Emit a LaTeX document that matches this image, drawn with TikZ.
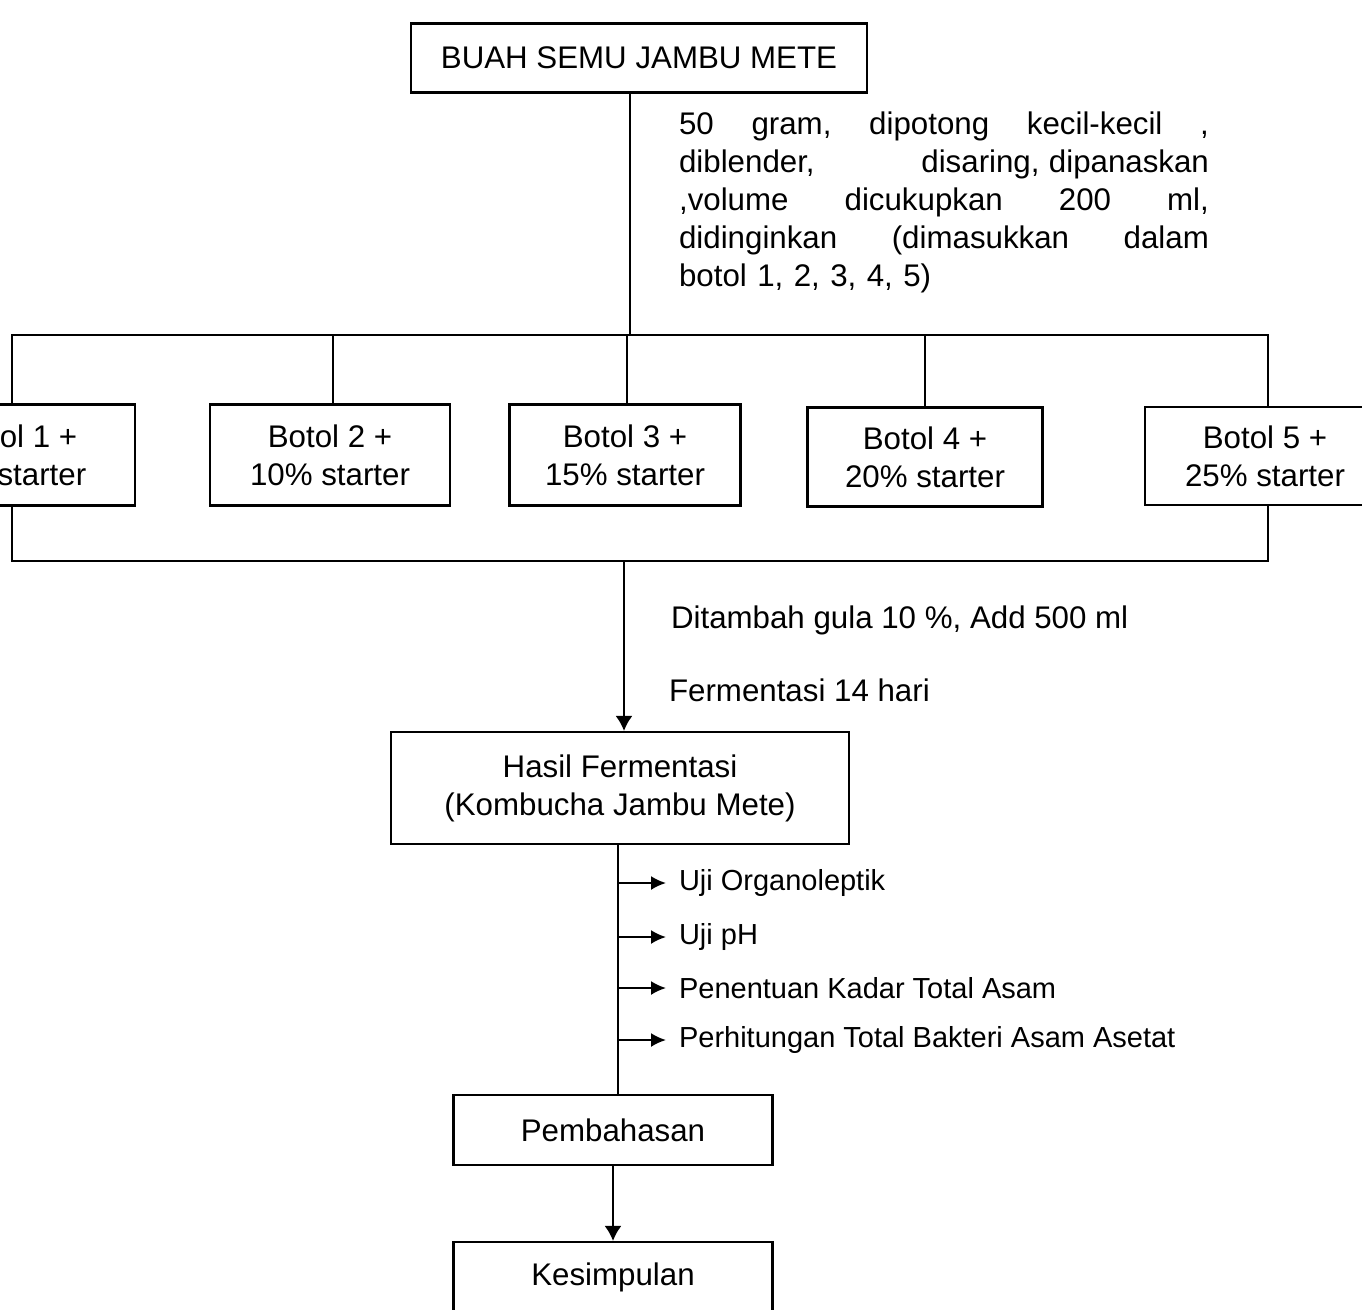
\documentclass[tikz,border=0pt]{standalone}
\usepackage{fontspec}
\setmainfont{Liberation Sans}
\usetikzlibrary{arrows.meta}
\newcommand\bigtxt{\fontsize{17.8}{21.6}\selectfont}
\newcommand\smalltxt{\fontsize{16.5}{19}\selectfont}
\newcommand\jline[1]{\makebox[10.6cm][l]{#1}}
\begin{document}
\begin{tikzpicture}[x=0.02cm,y=-0.02cm,
  line width=1.2pt,
  box/.style={draw, line width=1.2pt, align=center, inner sep=0pt, font=\bigtxt},
  arr/.style={-{Latex[length=0.3cm,width=0.34cm]}},
  sarr/.style={-{Latex[length=0.3cm,width=0.28cm]}},
  lbl/.style={anchor=west, inner sep=0pt, font=\bigtxt},
  testlbl/.style={anchor=west, inner xsep=0.24cm, inner ysep=0pt, font=\smalltxt}]
\path[use as bounding box] (0,0) rectangle (1362,1309);
\clip (0,0) rectangle (1362,1309);

% top box and description
\node[box, minimum width=9.12cm, minimum height=1.38cm] (top) at (639,58) {BUAH SEMU JAMBU METE};
\node[anchor=north west, inner sep=0pt, font=\bigtxt, align=left, text width=10.6cm] (desc) at (678,111)
  {\jline{50\hfill gram,\hfill dipotong\hfill kecil-kecil\hfill ,}\\
   \jline{diblender,\hfill disaring,\hspace{0.3em}dipanaskan}\\
   \jline{,volume\hfill dicukupkan\hfill 200\hfill ml,}\\
   \jline{didinginkan\hfill (dimasukkan\hfill dalam}\\
   botol 1, 2, 3, 4, 5)};

% bottles
\node[box, minimum width=4.8cm, minimum height=2.02cm] (b1) at (15,455) {Botol 1 +\\5\% starter};
\node[box, minimum width=4.8cm, minimum height=2.02cm] (b2) at (330,455) {Botol 2 +\\10\% starter};
\node[box, minimum width=4.62cm, minimum height=2.02cm] (b3) at (625,455) {Botol 3 +\\15\% starter};
\node[box, minimum width=4.7cm, minimum height=1.98cm] (b4) at (925,457) {Botol 4 +\\20\% starter};
\node[box, minimum width=4.8cm, minimum height=1.96cm] (b5) at (1265,456) {Botol 5 +\\25\% starter};

% bus coordinates
\coordinate (tl) at (12,335);
\coordinate (tr) at (1268,335);
\coordinate (bl) at (12,561);
\coordinate (br) at (1268,561);
\coordinate (tb) at (630,335);
\coordinate (j2) at (333,335);
\coordinate (j3) at (627,335);
\coordinate (j4) at (925,335);
\coordinate (jb) at (624,561);

\draw (top.south -| tb) -- (tb);
\draw (b1.north -| tl) -- (tl) -- (tr) -- (b5.north -| tr);
\draw (b1.south -| bl) -- (bl) -- (br) -- (b5.south -| br);
\draw (j2) -- (j2 |- b2.north);
\draw (j3) -- (j3 |- b3.north);
\draw (j4) -- (j4 |- b4.north);

% fermentation
\node[lbl] (add) at (670,620) {Ditambah gula 10 \%, Add 500 ml};
\node[lbl] (ferm) at (668,690) {Fermentasi 14 hari};
\node[box, minimum width=9.16cm, minimum height=2.24cm] (hasil) at (620,788) {Hasil Fermentasi\\(Kombucha Jambu Mete)};
\draw[arr] (jb) -- (jb |- hasil.north);

% results
\node[box, minimum width=6.38cm, minimum height=1.4cm] (pemb) at (613,1130) {Pembahasan};
\node[box, minimum width=6.38cm, minimum height=1.4cm] (kes) at (613,1277) {Kesimpulan};
\path (hasil.south) ++(-2,0) coordinate (h0);
\draw (h0) -- (h0 |- pemb.north);
\draw[arr] (pemb.south) -- (kes.north);

% tests
\coordinate (t1) at (618,883);
\coordinate (t2) at (618,937);
\coordinate (t3) at (618,988);
\coordinate (t4) at (618,1040);
\node[testlbl] (u1) at (666,883) {Uji Organoleptik};
\node[testlbl] (u2) at (666,937) {Uji pH};
\node[testlbl] (u3) at (666,988) {Penentuan Kadar Total Asam};
\node[testlbl] (u4) at (666,1040) {Perhitungan Total Bakteri Asam Asetat};
\draw[sarr] (t1) -- (u1);
\draw[sarr] (t2) -- (u2);
\draw[sarr] (t3) -- (u3);
\draw[sarr] (t4) -- (u4);
\end{tikzpicture}
\end{document}
